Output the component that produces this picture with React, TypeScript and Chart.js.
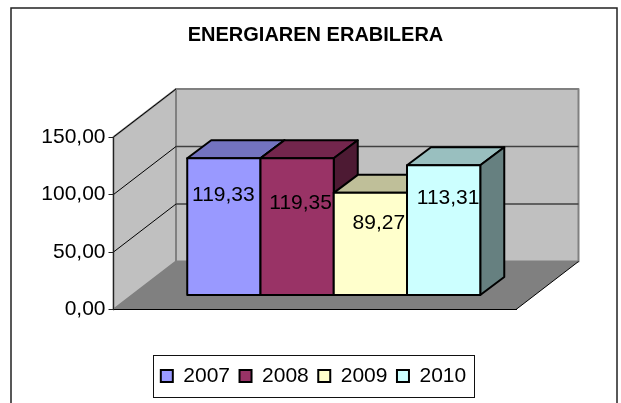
import React, { useEffect, useRef } from "react";
import { Chart, registerables } from "chart.js";

Chart.register(...registerables);

const titleText = "ENERGIAREN ERABILERA";
const categories = [""];
const years = ["2007", "2008", "2009", "2010"];
const values = [119.33, 119.35, 89.27, 113.31];
const barColors = ["#9999FF", "#993366", "#FFFFCC", "#CCFFFF"];
const labelNudges = [
  [0, 37],
  [4, 45],
  [9, 30.5],
  [5, 33],
];

const FONT = "'Liberation Sans', Arial, sans-serif";
const WALL_DX = 62.5;
const WALL_DY = -48;
const BAR_SHIFT_X = 19;
const BAR_SHIFT_Y = -14;
const BAR_DX = 24;
const BAR_DY = -18;

const fmt = (v: number) => v.toFixed(2).replace(".", ",");

function shade(hex: string, k: number) {
  const n = parseInt(hex.slice(1), 16);
  const c = [(n >> 16) & 255, (n >> 8) & 255, n & 255].map((x) => Math.round(x * k));
  return `rgb(${c[0]},${c[1]},${c[2]})`;
}

function poly(ctx: CanvasRenderingContext2D, pts: number[][], fill?: string, stroke?: string, lw = 1) {
  ctx.beginPath();
  pts.forEach((p, i) => (i ? ctx.lineTo(p[0], p[1]) : ctx.moveTo(p[0], p[1])));
  ctx.closePath();
  if (fill) {
    ctx.fillStyle = fill;
    ctx.fill();
  }
  if (stroke) {
    ctx.strokeStyle = stroke;
    ctx.lineWidth = lw;
    ctx.lineJoin = "round";
    ctx.stroke();
  }
}

const scene = {
  id: "scene3d",
  afterLayout(chart: any) {
    chart.titleBlock.left = 0;
    chart.titleBlock.right = 631;
    chart.legend.left = 0;
    chart.legend.right = 627;
  },
  beforeDraw(chart: any) {
    const { ctx, chartArea: a, scales } = chart;
    ctx.save();
    ctx.fillStyle = "#fff";
    ctx.fillRect(0, 0, chart.width, chart.height);
    ctx.strokeStyle = "#222";
    ctx.lineWidth = 1.5;
    ctx.strokeRect(11, 8, 606, 420);

    const y = scales.y;
    const L = a.left,
      R = a.right,
      T = y.getPixelForValue(150),
      B = y.getPixelForValue(0);
    const dx = WALL_DX,
      dy = WALL_DY;
    poly(ctx, [[L + dx, T + dy], [R + dx, T + dy], [R + dx, B + dy], [L + dx, B + dy]], "#C0C0C0", "#808080", 2);
    poly(ctx, [[L, T], [L + dx, T + dy], [L + dx, B + dy], [L, B]], "#C0C0C0", "#808080", 2);
    poly(ctx, [[L, B], [L + dx, B + dy], [R + dx, B + dy], [R, B]], "#808080");
    ctx.strokeStyle = "#000";
    ctx.lineWidth = 1;
    ctx.beginPath();
    ctx.moveTo(R, B);
    ctx.lineTo(R + dx, B + dy);
    ctx.stroke();

    y.ticks.forEach((t: any) => {
      if (t.value === 0) return;
      const py = y.getPixelForValue(t.value);
      ctx.strokeStyle = "#000";
      ctx.lineWidth = 1;
      ctx.beginPath();
      ctx.moveTo(L, py);
      ctx.lineTo(L + dx, py + dy);
      ctx.stroke();
      if (t.value < 150) {
        ctx.strokeStyle = "#404040";
        ctx.lineWidth = 1.5;
        ctx.beginPath();
        ctx.moveTo(L + dx, py + dy);
        ctx.lineTo(R + dx, py + dy);
        ctx.stroke();
      }
    });
    ctx.restore();
  },
  beforeDatasetDraw() {
    return false;
  },
  afterDatasetsDraw(chart: any) {
    const { ctx } = chart;
    values.forEach((_, i) => {
      const meta = chart.getDatasetMeta(i);
      const bar = meta.data[0];
      const half = bar.width / 2;
      const x0 = bar.x - half,
        x1 = bar.x + half,
        top = bar.y,
        base = bar.base;
      ctx.save();
      ctx.translate(BAR_SHIFT_X, BAR_SHIFT_Y);
      poly(ctx, [[x0, top], [x0 + BAR_DX, top + BAR_DY], [x1 + BAR_DX, top + BAR_DY], [x1, top]], shade(barColors[i], 0.75), "#000", 2);
      poly(ctx, [[x1, top], [x1 + BAR_DX, top + BAR_DY], [x1 + BAR_DX, base + BAR_DY], [x1, base]], shade(barColors[i], 0.5), "#000", 2);
      meta.controller.draw();
      ctx.strokeStyle = "#000";
      ctx.lineWidth = 2;
      ctx.lineJoin = "round";
      ctx.strokeRect(x0, top, x1 - x0, base - top);
      ctx.restore();
    });
    ctx.save();
    ctx.font = `21px ${FONT}`;
    ctx.fillStyle = "#000";
    ctx.textAlign = "center";
    ctx.textBaseline = "middle";
    values.forEach((v, i) => {
      const bar = chart.getDatasetMeta(i).data[0];
      ctx.fillText(fmt(v), bar.x + BAR_SHIFT_X + labelNudges[i][0] - 0.5, bar.y + BAR_SHIFT_Y + labelNudges[i][1]);
    });
    const lg = chart.legend;
    ctx.strokeStyle = "#111";
    ctx.lineWidth = 1;
    ctx.strokeRect(153.5, lg.top - 0.5, 321, 42);
    ctx.restore();
  },
};

export default function App() {
  const ref = useRef<HTMLCanvasElement>(null);
  useEffect(() => {
    const chart = new Chart(ref.current as HTMLCanvasElement, {
      type: "bar",
      data: {
        labels: categories,
        datasets: years.map((label, i) => ({
          label,
          data: [values[i]],
          backgroundColor: barColors[i],
          borderWidth: 0,
          categoryPercentage: 0.728,
          barPercentage: 1,
        })),
      },
      options: {
        responsive: false,
        animation: false,
        layout: { padding: { left: 0, right: 105, top: 0, bottom: 6.5 } },
        plugins: {
          tooltip: { enabled: false },
          title: {
            display: true,
            text: titleText,
            color: "#000",
            font: { family: FONT, size: 20, weight: "bold", lineHeight: 1.2 },
            padding: { top: 23.5, bottom: 89.5 },
          },
          legend: {
            display: true,
            position: "bottom",
            labels: {
              color: "#000",
              font: { family: FONT, size: 21 },
              boxWidth: 12,
              boxHeight: 12,
              padding: 9.5,
              generateLabels(c: any) {
                return Chart.defaults.plugins.legend.labels
                  .generateLabels(c)
                  .map((it: any) => ({ ...it, lineWidth: 2, strokeStyle: "#000" }));
              },
            },
          },
        },
        scales: {
          x: {
            display: true,
            ticks: { display: false },
            grid: { display: false },
            border: { display: true, color: "#000", width: 1 },
            afterFit(s: any) {
              s.height = 46.5;
            },
          },
          y: {
            min: 0,
            max: 150,
            ticks: {
              stepSize: 50,
              color: "#000",
              padding: 3,
              font: { family: FONT, size: 21 },
              callback: (v: any) => fmt(Number(v)),
            },
            grid: { drawOnChartArea: false, drawTicks: true, tickLength: 5, color: "#222" },
            border: { display: true, color: "#222", width: 1 },
            afterFit(s: any) {
              s.width = 113.5;
            },
          },
        },
      },
      plugins: [scene],
    } as any);
    return () => chart.destroy();
  }, []);
  return (
    <div style={{ position: "absolute", left: 0, top: 0, width: 621, height: 403, overflow: "hidden" }}>
      <canvas ref={ref} width={621} height={403} style={{ display: "block" }} />
    </div>
  );
}
